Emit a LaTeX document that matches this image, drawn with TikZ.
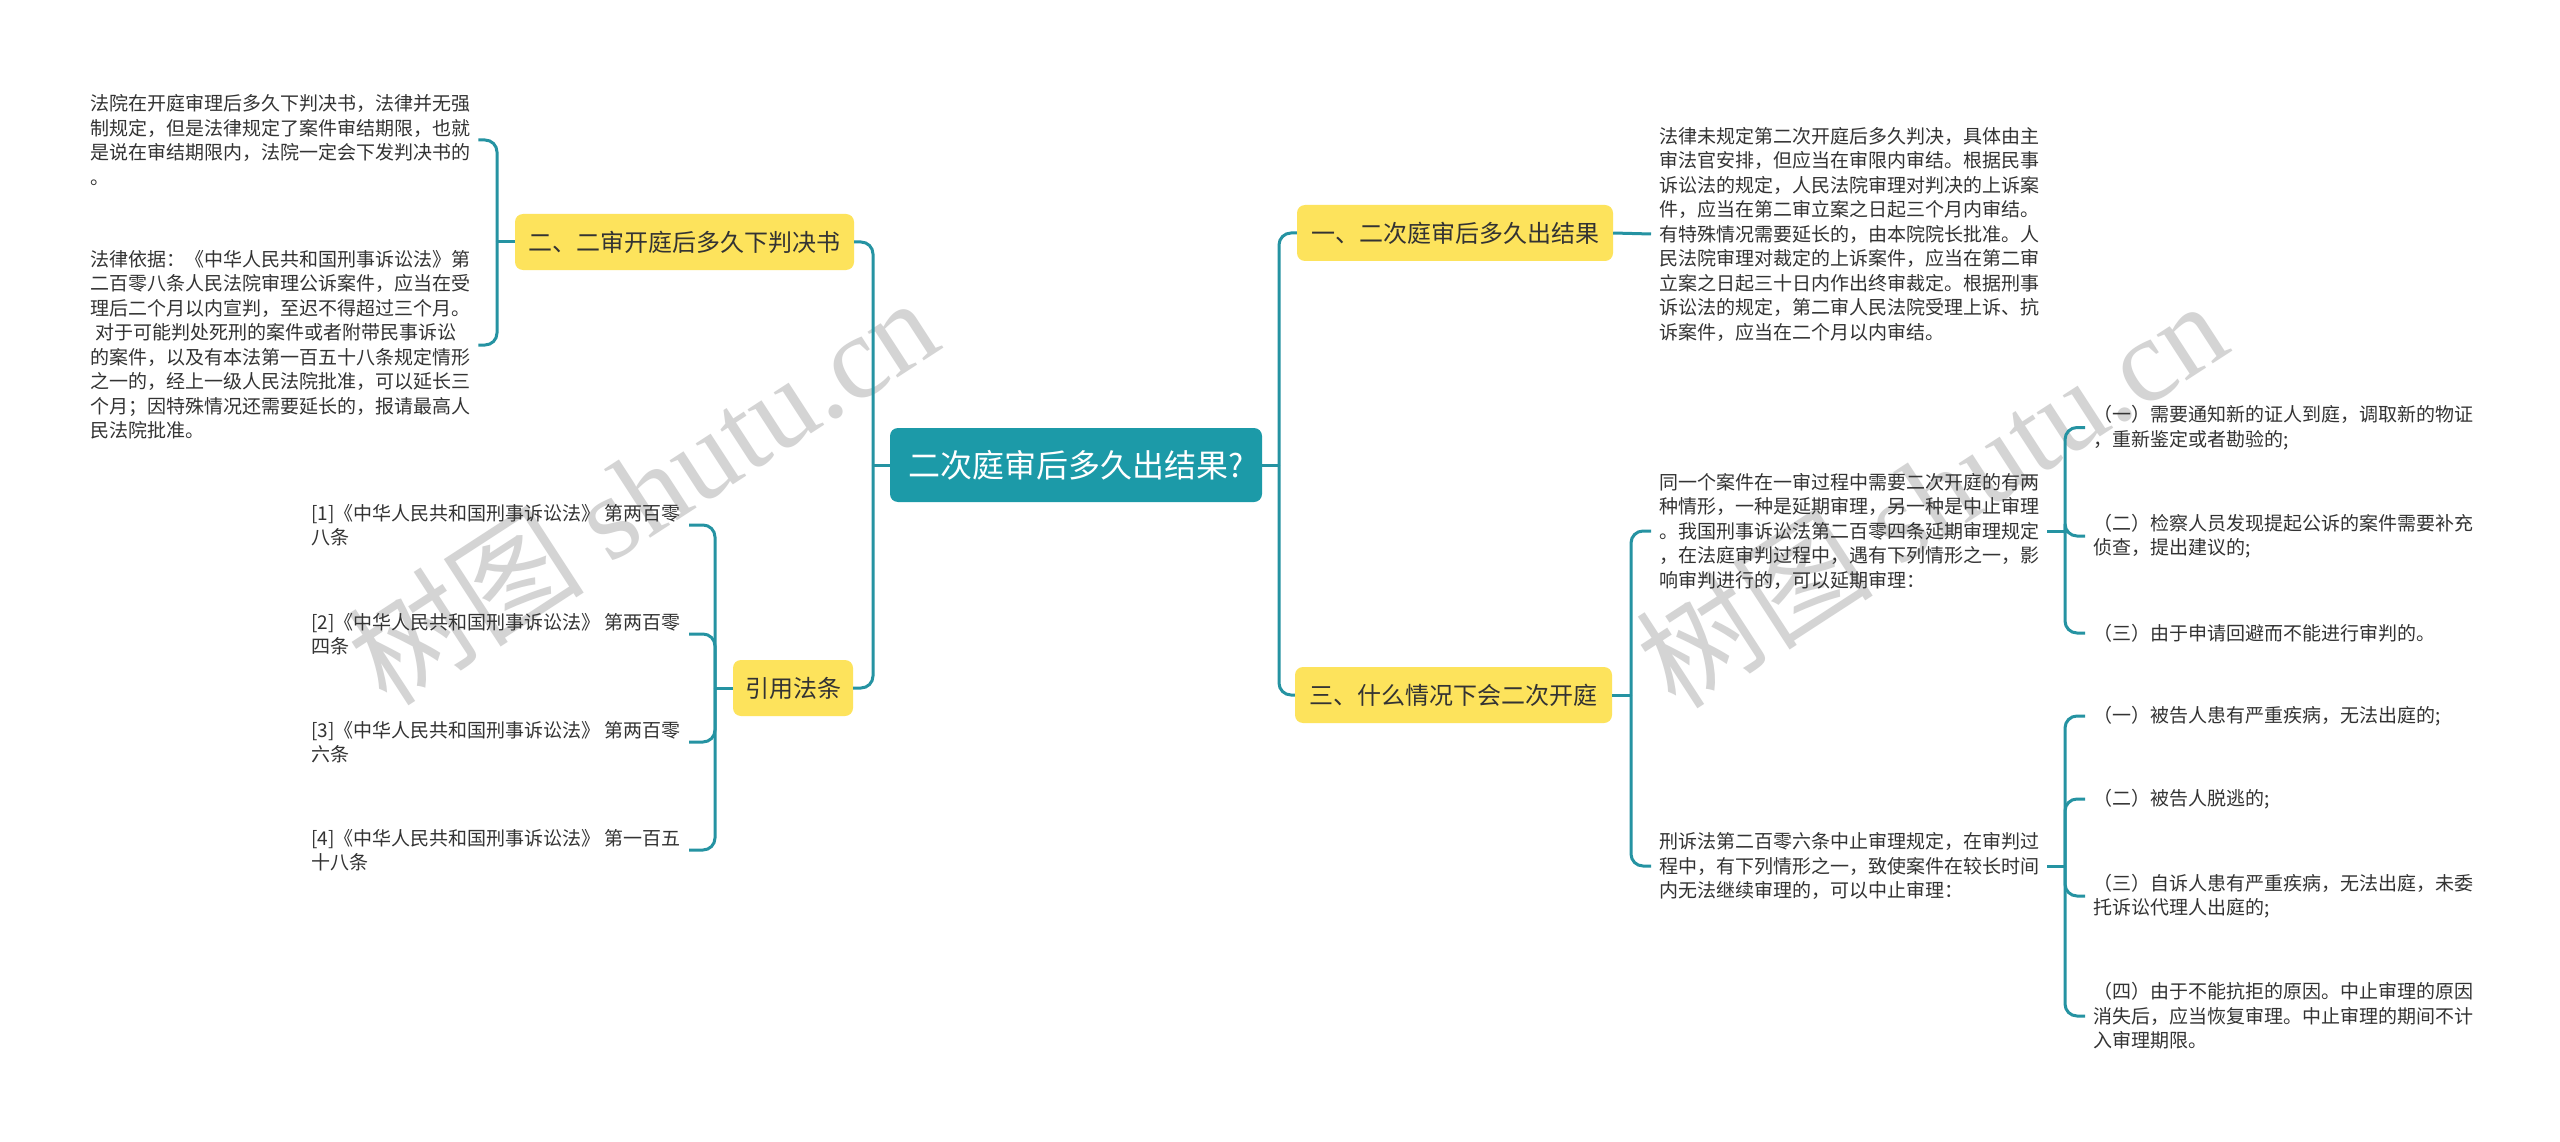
\documentclass[tikz,border=0pt]{standalone}
\usepackage{fontspec}
\setmainfont{Noto Sans CJK SC}
\newfontfamily\cjk{Noto Sans CJK SC}
\newfontfamily\wmserif{Liberation Serif}
\definecolor{rootc}{HTML}{1C9AA8}
\definecolor{lnc}{HTML}{2593A2}
\definecolor{yel}{HTML}{FDE35C}
\definecolor{txt}{HTML}{333333}
\definecolor{wmc}{HTML}{D4D4D4}
\tikzset{
  rootbox/.style={fill=rootc, rounded corners=8pt, text=white, font=\fontsize{32}{38}\selectfont, minimum width=372pt, minimum height=74pt, inner sep=0pt},
  brbox/.style={fill=yel, rounded corners=8pt, text=txt, font=\fontsize{24}{29}\selectfont, minimum height=56pt, inner sep=0pt},
  leaf/.style={text=txt, font=\fontsize{19}{24.5}\selectfont, align=left, inner xsep=8pt, inner ysep=0pt, anchor=west},
  conn/.style={draw=lnc, line width=3pt, rounded corners=12pt},
  wm/.style={text=wmc, font=\fontsize{119}{124}\selectfont, inner sep=0pt}
}
\begin{document}
\begin{tikzpicture}[x=1pt,y=-1pt]
\fill[white] (0,0) rectangle (2560,1142);
\useasboundingbox (0,0) rectangle (2560,1142);
% watermarks
\node[wm, rotate=33] (wm1) at (642,490) {{\cjk 树图} {\wmserif shutu.cn}};
\node[wm, rotate=33] (wm2) at (1931,493) {{\cjk 树图} {\wmserif shutu.cn}};
% root and branches
\node[rootbox] (root) at (1076,465) {二次庭审后多久出结果?};
\node[brbox, minimum width=316pt] (b1) at (1455,233) {一、二次庭审后多久出结果};
\node[brbox, minimum width=339pt] (b2) at (684.5,242) {二、二审开庭后多久下判决书};
\node[brbox, minimum width=317pt] (b3) at (1453.5,695) {三、什么情况下会二次开庭};
\node[brbox, minimum width=120pt] (b4) at (793,688) {引用法条};
% leaves left
\node[leaf] (t2a) at (82,140) {法院在开庭审理后多久下判决书，法律并无强\\制规定，但是法律规定了案件审结期限，也就\\是说在审结期限内，法院一定会下发判决书的\\。};
\node[leaf] (t2b) at (82,345) {法律依据：《中华人民共和国刑事诉讼法》第\\二百零八条人民法院审理公诉案件，应当在受\\理后二个月以内宣判，至迟不得超过三个月。\\\hspace*{5pt}对于可能判处死刑的案件或者附带民事诉讼\\的案件，以及有本法第一百五十八条规定情形\\之一的，经上一级人民法院批准，可以延长三\\个月；因特殊情况还需要延长的，报请最高人\\民法院批准。};
\node[leaf] (r1) at (303,525) {[1]《中华人民共和国刑事诉讼法》 第两百零\\八条};
\node[leaf] (r2) at (303,634) {[2]《中华人民共和国刑事诉讼法》 第两百零\\四条};
\node[leaf] (r3) at (303,742) {[3]《中华人民共和国刑事诉讼法》 第两百零\\六条};
\node[leaf] (r4) at (303,850) {[4]《中华人民共和国刑事诉讼法》 第一百五\\十八条};
% leaves right
\node[leaf] (t1) at (1651,234) {法律未规定第二次开庭后多久判决，具体由主\\审法官安排，但应当在审限内审结。根据民事\\诉讼法的规定，人民法院审理对判决的上诉案\\件，应当在第二审立案之日起三个月内审结。\\有特殊情况需要延长的，由本院院长批准。人\\民法院审理对裁定的上诉案件，应当在第二审\\立案之日起三十日内作出终审裁定。根据刑事\\诉讼法的规定，第二审人民法院受理上诉、抗\\诉案件，应当在二个月以内审结。};
\node[leaf] (c1) at (1651,531) {同一个案件在一审过程中需要二次开庭的有两\\种情形，一种是延期审理，另一种是中止审理\\。我国刑事诉讼法第二百零四条延期审理规定\\，在法庭审判过程中，遇有下列情形之一，影\\响审判进行的，可以延期审理：};
\node[leaf] (c2) at (1651,866) {刑诉法第二百零六条中止审理规定，在审判过\\程中，有下列情形之一，致使案件在较长时间\\内无法继续审理的，可以中止审理：};
\node[leaf] (g1a) at (2085,427.5) {（一）需要通知新的证人到庭，调取新的物证\\，重新鉴定或者勘验的;};
\node[leaf] (g1b) at (2085,536) {（二）检察人员发现提起公诉的案件需要补充\\侦查，提出建议的;};
\node[leaf] (g1c) at (2085,633) {（三）由于申请回避而不能进行审判的。};
\node[leaf] (g2a) at (2085,716) {（一）被告人患有严重疾病，无法出庭的;};
\node[leaf] (g2b) at (2085,799) {（二）被告人脱逃的;};
\node[leaf] (g2c) at (2085,896) {（三）自诉人患有严重疾病，无法出庭，未委\\托诉讼代理人出庭的;};
\node[leaf] (g2d) at (2085,1016) {（四）由于不能抗拒的原因。中止审理的原因\\消失后，应当恢复审理。中止审理的期间不计\\入审理期限。};
% junctions
\coordinate (jL) at (873,465);
\coordinate (jR) at (1279,465);
\coordinate (jB2) at (497,242);
\coordinate (jB4) at (715,688);
\coordinate (jB3) at (1631,695);
\coordinate (jC1) at (2065,533);
\coordinate (jC2) at (2065,866);
% connectors
\draw[conn] (root.west) -- (jL);
\draw[conn] (b2.east) -| (jL);
\draw[conn] (b4.east) -| (jL);
\draw[conn] (root.east) -- (jR);
\draw[conn] (b1.west) -| (jR);
\draw[conn] (b3.west) -| (jR);
\draw[conn] (b1.east) -- (t1.west);
\draw[conn] (b2.west) -- (jB2);
\draw[conn] (t2a.east) -| (jB2);
\draw[conn] (t2b.east) -| (jB2);
\draw[conn] (b4.west) -- (jB4);
\draw[conn] (r1.east) -| (jB4);
\draw[conn] (r2.east) -| (jB4);
\draw[conn] (r3.east) -| (jB4);
\draw[conn] (r4.east) -| (jB4);
\draw[conn] (b3.east) -- (jB3);
\draw[conn] (c1.west) -| (jB3);
\draw[conn] (c2.west) -| (jB3);
\draw[conn] (c1.east) -- (c1.east -| jC1);
\draw[conn] (g1a.west) -| (jC1);
\draw[conn] (g1b.west) -| (jC1);
\draw[conn] (g1c.west) -| (jC1);
\draw[conn] (c2.east) -- (jC2);
\draw[conn] (g2a.west) -| (jC2);
\draw[conn] (g2b.west) -| (jC2);
\draw[conn] (g2c.west) -| (jC2);
\draw[conn] (g2d.west) -| (jC2);
\end{tikzpicture}
\end{document}
